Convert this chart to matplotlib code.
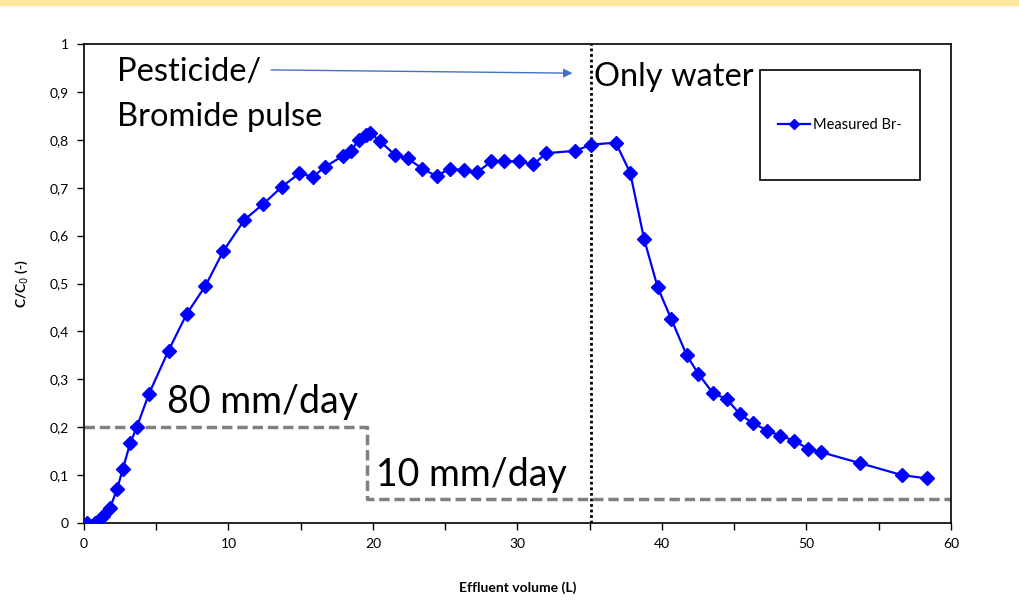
import matplotlib.pyplot as plt
from matplotlib.patches import Rectangle
from matplotlib.ticker import MultipleLocator, FuncFormatter

plt.rcParams['font.family'] = ['Lato', 'DejaVu Sans']

# measured bromide breakthrough (effluent volume in L, relative concentration)
volume = [0.18, 0.76, 1.3, 1.8, 2.3, 2.68, 3.19, 3.65, 4.5, 5.85, 7.1, 8.4, 9.65,
          11.1, 12.4, 13.7, 14.9, 15.85, 16.7, 17.9, 18.5, 19.0, 19.5, 19.8, 20.45,
          21.5, 22.4, 23.4, 24.4, 25.3, 26.3, 27.2, 28.2, 29.1, 30.1, 31.1, 32.0,
          34.0, 35.1, 36.8, 37.8, 38.76, 39.7, 40.65, 41.7, 42.5, 43.5, 44.5, 45.4,
          46.3, 47.3, 48.2, 49.15, 50.1, 51.0, 53.7, 56.6, 58.35]
conc = [0.0, 0.0, 0.015, 0.031, 0.072, 0.112, 0.166, 0.2, 0.27, 0.36, 0.436, 0.495, 0.568,
        0.633, 0.666, 0.702, 0.73, 0.723, 0.744, 0.766, 0.777, 0.80, 0.81, 0.815, 0.798,
        0.769, 0.761, 0.74, 0.724, 0.74, 0.736, 0.732, 0.755, 0.755, 0.755, 0.749, 0.772,
        0.777, 0.79, 0.794, 0.731, 0.593, 0.492, 0.425, 0.351, 0.312, 0.272, 0.258, 0.227,
        0.208, 0.193, 0.182, 0.172, 0.155, 0.148, 0.125, 0.10, 0.093]

# irrigation rate step (drawn on the same axis)
rate_x = [0, 19.6, 19.6, 60]
rate_y = [0.2, 0.2, 0.05, 0.05]

switch_volume = 35.1

fig = plt.figure(figsize=(10.2, 6.15), dpi=100)
# slide header band
fig.patches.append(Rectangle((0, 1 - 5 / 615), 1, 5 / 615, transform=fig.transFigure,
                             color='#fde6a0', zorder=0))
ax = fig.add_axes([84 / 1020, 1 - 523 / 615, 867 / 1020, 479 / 615])

ax.plot(rate_x, rate_y, color='#808080', lw=2.5, ls=(0, (3, 1.4)), zorder=2)
ax.axvline(switch_volume, color='black', lw=2, ls=(0, (1, 1)), zorder=2)
line, = ax.plot(volume, conc, color='#0000ff', lw=1.6, marker='D', ms=7,
                markeredgecolor='#0000ff', zorder=3, label='Measured Br-')

ax.set_xlim(0, 60)
ax.set_ylim(0, 1)
ax.xaxis.set_major_locator(MultipleLocator(5))
ax.yaxis.set_major_locator(MultipleLocator(0.1))
ax.xaxis.set_major_formatter(FuncFormatter(lambda v, p: f'{v:g}' if round(v) % 10 == 0 else ''))
ax.yaxis.set_major_formatter(FuncFormatter(lambda v, p: f'{v:.1f}'.replace('.', ',').replace(',0', '')))
ax.tick_params(direction='out', length=5, width=1, labelsize=10, colors='black', pad=6)
for s in ax.spines.values():
    s.set_linewidth(1.2)

ax.set_xlabel('Effluent volume (L)', fontsize=10, fontweight='bold', labelpad=22)
ax.set_ylabel('C/C$_0$ (-)', fontsize=10, fontweight='bold', labelpad=14)

# annotations
ax.text(2.29, 0.942, 'Pesticide/', fontsize=23.5, va='center', ha='left')
ax.text(2.29, 0.848, 'Bromide pulse', fontsize=23.5, va='center', ha='left')
ax.text(35.3, 0.931, 'Only water', fontsize=23.5, va='center', ha='left')
ax.text(5.75, 0.253, '80 mm/day', fontsize=27, va='center', ha='left')
ax.text(20.24, 0.10, '10 mm/day', fontsize=27, va='center', ha='left')
ax.annotate('', xy=(34.0, 0.939), xytext=(12.75, 0.946),
            arrowprops=dict(arrowstyle='-|>', color='#4472c4', lw=1, mutation_scale=13))

# legend box
ax.add_patch(Rectangle((0.78, 0.716), 0.184, 0.23, transform=ax.transAxes,
                       fill=False, edgecolor='black', lw=1.2, zorder=4))
ax.legend(handles=[line], loc='center', bbox_to_anchor=(0.872, 0.831), frameon=False,
          fontsize=10.5, handlelength=2.2, handletextpad=0.2, markerscale=0.7)

fig.savefig('out.png', dpi=100)
